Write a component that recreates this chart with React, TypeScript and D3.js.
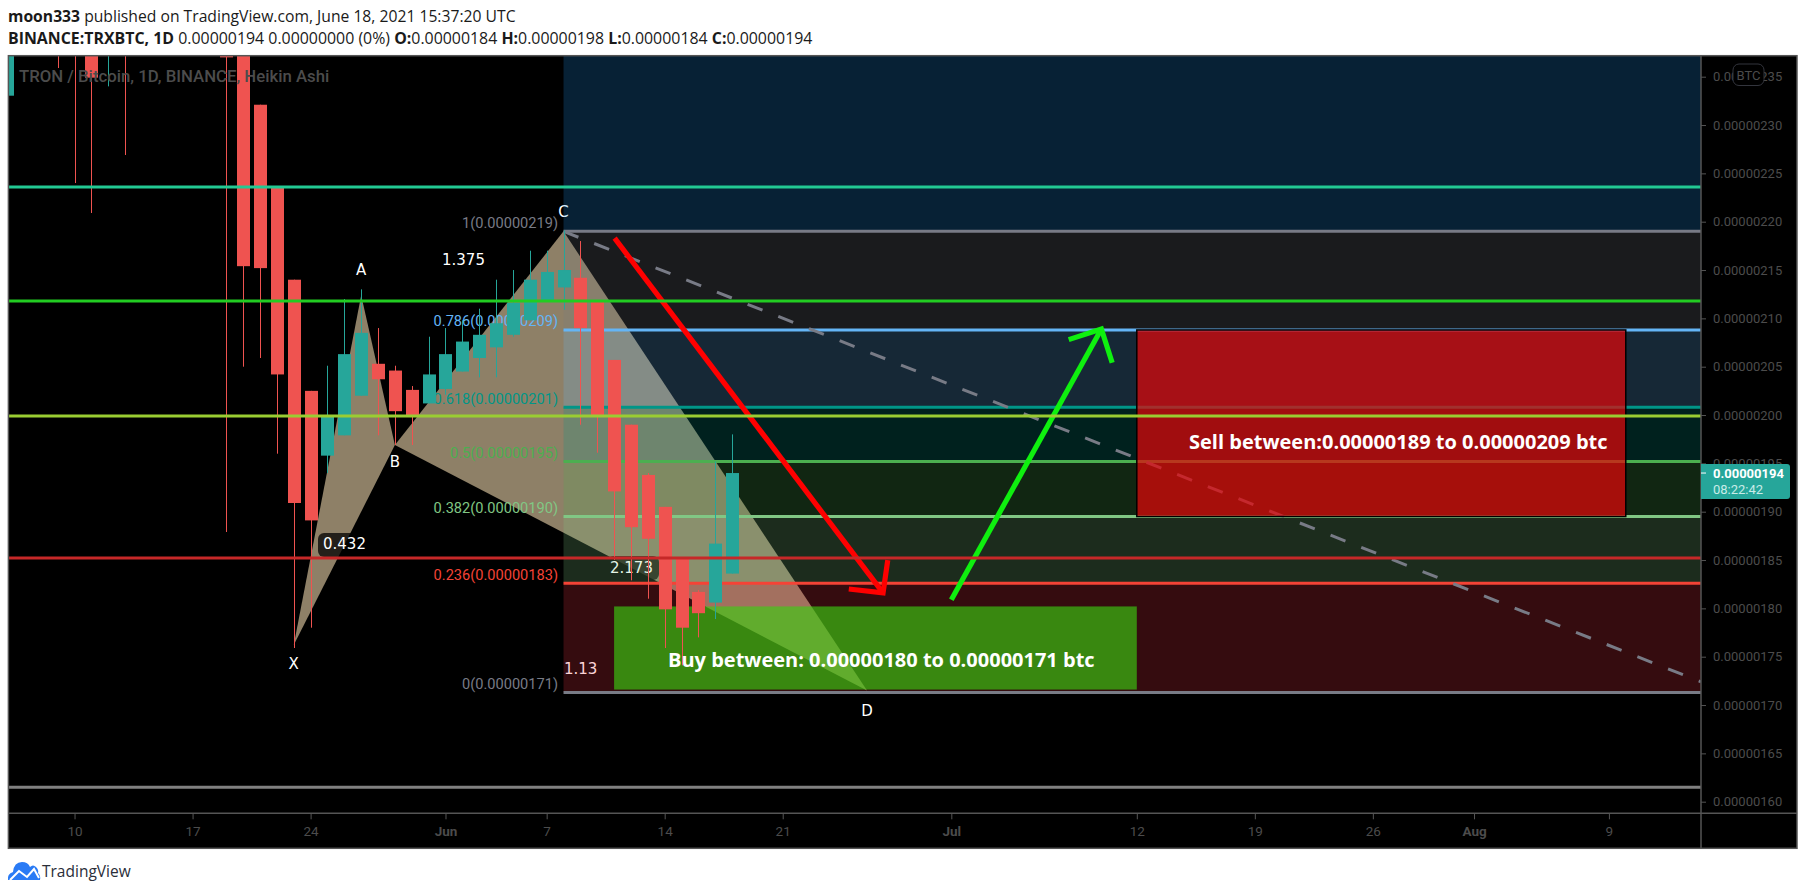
import React, { useEffect, useRef } from 'react';
import * as d3 from 'd3';

const WIDTH = 1805;
const HEIGHT = 895;

// prices are in units of 0.00000001 BTC
const candleDates = [
  '2021-05-09', '2021-05-10', '2021-05-11', '2021-05-12', '2021-05-13',
  '2021-05-19', '2021-05-20', '2021-05-21', '2021-05-22', '2021-05-23', '2021-05-24', '2021-05-25',
  '2021-05-26', '2021-05-27', '2021-05-28', '2021-05-29', '2021-05-30', '2021-05-31', '2021-06-01',
  '2021-06-02', '2021-06-03', '2021-06-04', '2021-06-05', '2021-06-06', '2021-06-07', '2021-06-08',
  '2021-06-09', '2021-06-10', '2021-06-11', '2021-06-12', '2021-06-13', '2021-06-14', '2021-06-15',
  '2021-06-16', '2021-06-17', '2021-06-18',
];
const opens = [
  248, 246, 244, 240, 246,
  250, 250, 232.1, 223.5, 214, 202.5, 195.8,
  197.9, 202, 205.3, 204.6, 202.6, 201.2, 202.7,
  204.5, 205.9, 207, 208.3, 209.8, 211.9, 213.2,
  214.2, 211.7, 205.7, 199, 193.8, 190.5, 185.2,
  181.7, 180.6, 183.6,
];
const highs = [
  250, 250, 250, 250, 250,
  255, 255, 232.1, 223.5, 214, 202.5, 205.1,
  212, 213, 209, 205.1, 203, 208.1, 209,
  209.8, 211, 214, 215, 217, 217, 219.1,
  218, 211.7, 205.7, 199, 194, 190.5, 185.2,
  181.9, 195.2, 198,
];
const lows = [
  235.9, 224, 220.9, 234, 226.9,
  187.9, 205, 205.9, 196, 175.9, 178, 194,
  197.9, 202, 197.9, 196.9, 196.9, 201.2, 202.1,
  204.5, 203.9, 203.9, 208.1, 209.8, 211.9, 210.9,
  199, 196.1, 185, 182.9, 181, 175.9, 174.1,
  177, 178.9, 183.6,
];
const closes = [
  246, 244, 234.9, 244, 241,
  237, 215.4, 215.2, 204.2, 190.9, 189.1, 199.9,
  206.3, 208.5, 203.7, 200.4, 200, 204.2, 206.3,
  207.6, 208.3, 209.5, 211.6, 214, 214.8, 215,
  209, 200, 192.1, 188.4, 187.2, 179.9, 178,
  179.5, 186.7, 194,
];

const priceTicks = [235, 230, 225, 220, 215, 210, 205, 200, 195, 190, 185, 180, 175, 170, 165, 160];
const timeTickDates = ['2021-05-10', '2021-05-17', '2021-05-24', '2021-06-01', '2021-06-07', '2021-06-14', '2021-06-21', '2021-07-01', '2021-07-12', '2021-07-19', '2021-07-26', '2021-08-01', '2021-08-09'];
const timeTickLabels = ['10', '17', '24', 'Jun', '7', '14', '21', 'Jul', '12', '19', '26', 'Aug', '9'];

// fib retracement, bottom to top
const fibRatios = ['0', '0.236', '0.382', '0.5', '0.618', '0.786', '1'];
const fibPrices = [171.3, 182.6, 189.5, 195.2, 200.8, 208.8, 219];
const fibLabelPrices = ['0.00000171', '0.00000183', '0.00000190', '0.00000195', '0.00000201', '0.00000209', '0.00000219'];
const fibLineColors = ['#787b86', '#f44336', '#81c784', '#4caf50', '#009688', '#64b5f6', '#787b86'];
const fibBandColors = ['#f23645', '#81c784', '#4caf50', '#009688', '#64b5f6', '#787b86', '#2196f3'];
const fibCeiling = 245;

// horizontal rays
const rayPrices = [223.6, 211.8, 199.9, 185.2, 161.5];
const rayColors = ['#22c993', '#22cc22', '#9acd32', '#c62828', '#808080'];

// XABCD pattern
const patternX: [string, number] = ['2021-05-23', 176.2];
const patternA: [string, number] = ['2021-05-27', 212.4];
const patternB: [string, number] = ['2021-05-29', 196.9];
const patternC: [string, number] = ['2021-06-08', 219];
const patternD: [string, number] = ['2021-06-26', 171.5];

// [days after May 24, price]
const ANCHOR = '2021-05-24';
const redArrowShaft = [[18.03, 218.3], [33.95, 181.6]];
const redArrowHead = [[31.92, 182], [33.95, 181.6], [34.23, 185]];
const greenArrowShaft = [[38, 180.9], [46.9, 208.9]];
const greenArrowHead = [[44.96, 207.8], [46.9, 208.9], [47.54, 205.4]];
const trendLine = [[15, 219], [82.46, 172.4]];

const buyZone = { from: '2021-06-11', to: '2021-07-12', top: 180.2, bottom: 171.6 };
const sellZone = { from: '2021-07-12', to: '2021-08-10', top: 208.8, bottom: 189.5 };

const toDate = (s: string) => new Date(s + 'T00:00:00Z');
const fromOffset = (n: number) => new Date(toDate(ANCHOR).getTime() + n * 864e5);

// plot frame
const left = 8.4;
const top = 55.7;
const right = 1701;
const axisY = 813.3;
const outerRight = 1797;
const outerBottom = 848.3;

const x = d3.scaleUtc().domain([toDate('2021-05-24'), toDate('2021-07-12')]).range([310.6, 1136.8]);
const y = d3.scaleLinear().domain([235, 160]).range([76.7, 801.7]);

const AXIS_COLOR = '#555555';
const TEXT_DIM = '#4c4c4c';
const UP = '#26a69a';
const DOWN = '#ef5350';
const SANS = '"Open Sans", sans-serif';

const offsetLine = d3.line<number[]>().x(d => x(fromOffset(d[0]))).y(d => y(d[1]));
const patternLine = d3.line<[string, number]>().x(d => x(toDate(d[0]))).y(d => y(d[1]));

export default function App() {
  const priceAxisRef = useRef<SVGGElement>(null);
  const timeAxisRef = useRef<SVGGElement>(null);

  useEffect(() => {
    if (!priceAxisRef.current || !timeAxisRef.current) return;

    const priceAxis = d3.axisRight(y)
      .tickValues(priceTicks)
      .tickFormat(d => (Number(d) / 1e8).toFixed(8))
      .tickSize(5)
      .tickPadding(7);
    const pg = d3.select(priceAxisRef.current).call(priceAxis as any);
    pg.select('.domain').remove();
    pg.selectAll('line').attr('stroke', AXIS_COLOR);
    pg.selectAll('text')
      .attr('fill', TEXT_DIM)
      .attr('font-family', 'Roboto, sans-serif')
      .attr('font-size', 13);

    const timeAxis = d3.axisBottom(x)
      .tickValues(timeTickDates.map(toDate))
      .tickFormat((_, i) => timeTickLabels[i])
      .tickSize(6)
      .tickPadding(7);
    const tg = d3.select(timeAxisRef.current).call(timeAxis as any);
    tg.select('.domain').remove();
    tg.selectAll('line').attr('stroke', AXIS_COLOR);
    tg.selectAll('text')
      .attr('fill', TEXT_DIM)
      .attr('font-family', 'Roboto, sans-serif')
      .attr('font-size', 13.5)
      .attr('font-weight', (_, i) => (isNaN(Number(timeTickLabels[i])) ? 700 : 400));
  }, []);

  const fibX = x(toDate('2021-06-08'));

  return (
    <svg width={WIDTH} height={HEIGHT} style={{ position: 'absolute', left: 0, top: 0, background: '#fff' }}>
      <defs>
        <clipPath id="plot">
          <rect x={left} y={top} width={right - left} height={axisY - top} />
        </clipPath>
      </defs>

      {/* header */}
      <g fontFamily={SANS} fill="#1a1a1a">
        <text x={8} y={21.5} fontSize={15.7}>
          <tspan fontWeight={700}>moon333</tspan> published on TradingView.com, June 18, 2021 15:37:20 UTC
        </text>
        <text x={8} y={43.5} fontSize={15.9}>
          <tspan fontWeight={700}>BINANCE:TRXBTC, 1D</tspan> 0.00000194 0.00000000 (0%) <tspan fontWeight={700}>O:</tspan>0.00000184 <tspan fontWeight={700}>H:</tspan>0.00000198 <tspan fontWeight={700}>L:</tspan>0.00000184 <tspan fontWeight={700}>C:</tspan>0.00000194
        </text>
      </g>

      <rect x={left} y={top} width={outerRight - left} height={outerBottom - top} fill="#000" />

      <g clipPath="url(#plot)">
        {/* pattern */}
        <path d={patternLine([patternX, patternA, patternB]) + 'Z'} fill="#ffe6b9" fillOpacity={0.555} />
        <path d={patternLine([patternB, patternC, patternD]) + 'Z'} fill="#ffe6b9" fillOpacity={0.555} />
        <rect x={318} y={533} width={54} height={24} rx={6} fill="#000" fillOpacity={0.75} />
        <rect x={607} y={556} width={52} height={24} rx={6} fill="#000" fillOpacity={0.75} />
        <g fontFamily='"DejaVu Sans", sans-serif' fontSize={15} fill="#fff">
          <text x={x(toDate(patternX[0]))} y={669} textAnchor="middle">X</text>
          <text x={x(toDate(patternA[0]))} y={275} textAnchor="middle">A</text>
          <text x={x(toDate(patternB[0]))} y={467} textAnchor="middle">B</text>
          <text x={x(toDate(patternC[0]))} y={217} textAnchor="middle">C</text>
          <text x={x(toDate(patternD[0]))} y={716} textAnchor="middle">D</text>
          <text x={442} y={265}>1.375</text>
          <text x={323} y={549}>0.432</text>
          <text x={610} y={573}>2.173</text>
          <text x={564} y={674}>1.13</text>
        </g>

        {/* fib retracement */}
        {fibBandColors.map((c, i) => {
          const upper = i + 1 < fibPrices.length ? fibPrices[i + 1] : fibCeiling;
          return (
            <rect
              key={c + i}
              x={fibX}
              y={y(upper)}
              width={right - fibX}
              height={y(fibPrices[i]) - y(upper)}
              fill={c}
              fillOpacity={0.22}
            />
          );
        })}
        {fibPrices.map((p, i) => (
          <line key={i} x1={fibX} x2={right} y1={y(p)} y2={y(p)} stroke={fibLineColors[i]} strokeWidth={3} />
        ))}
        <g fontFamily="Roboto, sans-serif" fontSize={14.6} textAnchor="end">
          {fibPrices.map((p, i) => (
            <text key={i} x={fibX - 5.5} y={y(p) - 3.5} fill={fibLineColors[i]}>
              {fibRatios[i]}({fibLabelPrices[i]})
            </text>
          ))}
        </g>

        {/* trend line */}
        <path
          d={offsetLine(trendLine) ?? ''}
          fill="none"
          stroke="#787b86"
          strokeWidth={3}
          strokeDasharray="16 17"
        />

        {/* zones */}
        <rect
          x={x(toDate(buyZone.from))}
          y={y(buyZone.top)}
          width={x(toDate(buyZone.to)) - x(toDate(buyZone.from))}
          height={y(buyZone.bottom) - y(buyZone.top)}
          fill="#3ccf11"
          fillOpacity={0.64}
        />
        <rect
          x={x(toDate(sellZone.from))}
          y={y(sellZone.top)}
          width={x(toDate(sellZone.to)) - x(toDate(sellZone.from))}
          height={y(sellZone.bottom) - y(sellZone.top)}
          fill="#e60608"
          fillOpacity={0.7}
          stroke="#000"
          strokeWidth={1.5}
        />

        {/* candles */}
        {candleDates.map((d, i) => {
          const cx = Math.round(x(toDate(d)));
          const color = closes[i] >= opens[i] ? UP : DOWN;
          const bodyTop = y(Math.max(opens[i], closes[i]));
          const bodyBottom = y(Math.min(opens[i], closes[i]));
          return (
            <g key={d}>
              <line x1={cx + 0.5} x2={cx + 0.5} y1={y(highs[i])} y2={y(lows[i])} stroke={color} strokeWidth={1} />
              <rect x={cx - 6} y={bodyTop} width={13} height={bodyBottom - bodyTop} fill={color} />
            </g>
          );
        })}

        {/* arrows */}
        <g fill="none" strokeWidth={5.2}>
          <path d={offsetLine(redArrowShaft) ?? ''} stroke="#ff0000" />
          <path d={offsetLine(redArrowHead) ?? ''} stroke="#ff0000" />
          <path d={offsetLine(greenArrowShaft) ?? ''} stroke="#0ff00f" />
          <path d={offsetLine(greenArrowHead) ?? ''} stroke="#0ff00f" />
        </g>

        {/* horizontal rays */}
        {rayPrices.map((p, i) => (
          <line key={i} x1={left} x2={right} y1={y(p)} y2={y(p)} stroke={rayColors[i]} strokeWidth={3} />
        ))}

        {/* zone captions */}
        <g fontFamily={SANS} fontSize={20} fontWeight={700} fill="#fff">
          <text x={668} y={666.5}>Buy between: 0.00000180 to 0.00000171 btc</text>
          <text x={1189} y={448.5}>Sell between:0.00000189 to 0.00000209 btc</text>
        </g>
      </g>

      {/* legend */}
      <rect x={left} y={top} width={5.6} height={40} fill={UP} />
      <text x={19} y={81.5} fontFamily="Roboto, sans-serif" fontWeight={500} fontSize={16.75} fill={TEXT_DIM}>
        TRON / Bitcoin, 1D, BINANCE, Heikin Ashi
      </text>

      {/* axes */}
      <g ref={priceAxisRef} transform={`translate(${right},0)`} />
      <g ref={timeAxisRef} transform={`translate(0,${axisY})`} />
      <line x1={right} x2={right} y1={top} y2={outerBottom} stroke={AXIS_COLOR} strokeWidth={1.5} />
      <line x1={left} x2={outerRight} y1={axisY} y2={axisY} stroke={AXIS_COLOR} strokeWidth={1.5} />
      <rect x={left} y={top} width={outerRight - left} height={outerBottom - top} fill="none" stroke={AXIS_COLOR} strokeWidth={1.5} />

      {/* currency badge */}
      <rect x={1733} y={64} width={31} height={21.5} rx={6} fill="#000" stroke="#33353d" strokeWidth={1} />
      <text x={1748.5} y={80} textAnchor="middle" fontFamily="Roboto, sans-serif" fontSize={13} fill={TEXT_DIM}>BTC</text>

      {/* last price */}
      <path d="M1701 464H1787a3 3 0 0 1 3 3V496a3 3 0 0 1 -3 3H1701Z" fill={UP} />
      <line x1={1701} x2={1706} y1={y(194)} y2={y(194)} stroke="#fff" />
      <text x={1713} y={478} fontFamily="Roboto, sans-serif" fontWeight={700} fontSize={13} fill="#fff">0.00000194</text>
      <text x={1713} y={494} fontFamily="Roboto, sans-serif" fontSize={13} fill="#c8ece8">08:22:42</text>

      {/* logo */}
      <path d="M8 880q-1-6 5-8q1-10 9-10q6 0 8 5q3-3 6 0q3 3 2 6q3 3 2 7z" fill="#2a7bf5" />
      <path d="M10 880l9-9l8 6l7-8l5 9" fill="none" stroke="#fff" strokeWidth={2} />
      <text x={42} y={876.5} fontFamily={SANS} fontSize={15.5} fill="#2a2e39">TradingView</text>
    </svg>
  );
}
